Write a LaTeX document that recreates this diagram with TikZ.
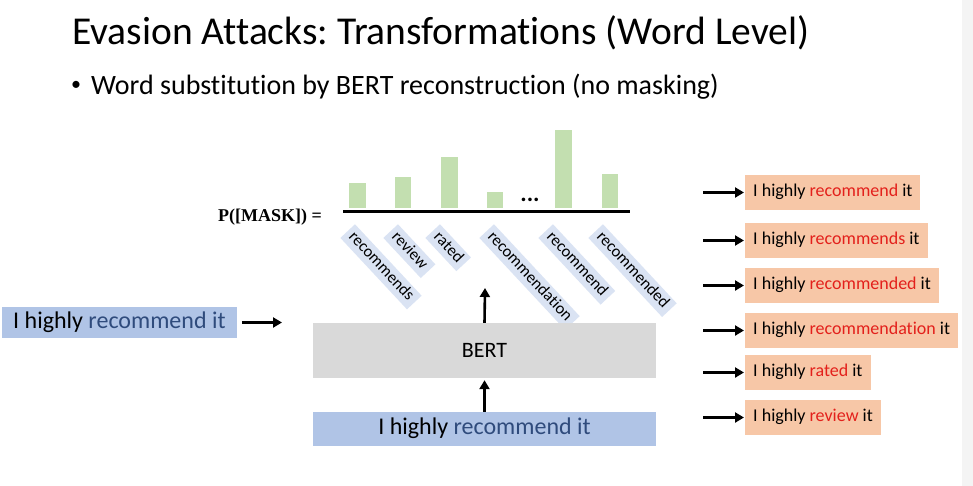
\documentclass[tikz,border=0pt]{standalone}
\usepackage{fontspec}
\setmainfont{Carlito}[Ligatures={NoCommon}]
\newfontfamily\serifbold{Liberation Serif}
\usetikzlibrary{arrows.meta}
\definecolor{bargreen}{HTML}{C3DFB0}
\definecolor{lblblue}{HTML}{DAE3F3}
\definecolor{bertgray}{HTML}{D9D9D9}
\definecolor{inblue}{HTML}{B0C4E6}
\definecolor{txtblue}{HTML}{2F4B7C}
\definecolor{salmon}{HTML}{F7C7A7}
\definecolor{redw}{HTML}{E3201B}
\definecolor{stripgray}{HTML}{F4F4F4}
\newcommand{\fsz}[1]{\fontsize{#1}{#1}\selectfont}
\frenchspacing
\begin{document}
\begin{tikzpicture}[x=1pt,y=-1pt,
  fatarrow/.style={line width=2.6pt,-{Triangle[length=9pt,width=10pt]}},
  barbox/.style={fill=bargreen,draw=none},
  lbl/.style={fill=lblblue,rotate=-47,anchor=north west,font=\fsz{16.5},
    inner xsep=5pt,inner ysep=2pt,text height=12pt,text depth=4pt},
  outbox/.style={fill=salmon,anchor=west,minimum height=35pt,inner xsep=8pt,
    text height=12.5pt,text depth=4pt,font=\fsz{18}},
  inbox/.style={fill=inblue,font=\fsz{24},text height=16pt,text depth=5pt}]
\useasboundingbox (0,0) rectangle (973,486);
\fill[white] (0,0) rectangle (973,486);
\fill[stripgray] (962,0) rectangle (973,486);

% title and bullet
\node[anchor=base west,font=\fsz{39.5},inner sep=0pt] (title) at (72,45)
  {Evasion Attacks: Transformations (Word Level)};
\node[font=\fsz{20},inner sep=0pt] (bulletdot) at (76,86) {\textbullet};
\node[anchor=base west,font=\fsz{28},inner sep=0pt] (bullet) at (91,95)
  {Word substitution by BERT reconstruction (no masking)};

% bar chart
\fill[barbox] (349,183) rectangle (366,208);
\fill[barbox] (395,177) rectangle (411,208);
\fill[barbox] (441,157) rectangle (458,208);
\fill[barbox] (487,192) rectangle (503,208);
\fill[barbox] (555,130) rectangle (572,208);
\fill[barbox] (602,174) rectangle (618,208);
\node[anchor=base,font=\bfseries\fsz{24},inner sep=0pt] (dots) at (530,202) {...};
\draw[line width=3pt] (343,211.5) -- (630,211.5);
\node[anchor=base east,font=\serifbold\bfseries\fsz{18},inner sep=0pt] (pmask) at (322,222)
  {P([MASK]) =};

% rotated candidate labels
\node[lbl] (l1) at (355,224) {recommends};
\node[lbl] (l2) at (398,224) {review};
\node[lbl] (l3) at (440,224) {rated};
\node[lbl] (l4) at (494,224) {recommendation};
\node[lbl] (l5) at (553,224) {recommend};
\node[lbl] (l6) at (603,224) {recommended};

% BERT and input
\node[fill=bertgray,minimum width=343pt,minimum height=55pt,font=\fsz{22}] (bert) at (484.5,350.5) {BERT};
\node[inbox,minimum width=343pt,minimum height=34pt] (inp) at (484.5,429)
  {I highly \textcolor{txtblue}{recommend it}};
\coordinate (bertout) at (485,288);
\draw[fatarrow] (inp.north) -- ([yshift=-2pt]bert.south);
\draw[fatarrow] (bert.north) -- (bertout);

% left input
\node[inbox,anchor=west,minimum height=31pt,inner xsep=11pt] (lin) at (2,322.5)
  {I highly \textcolor{txtblue}{recommend it}};
\coordinate (lintip) at (282,322.5);
\draw[fatarrow] ([xshift=5pt]lin.east) -- (lintip);

% outputs
\node[outbox] (o1) at (745,192.5) {I highly \textcolor{redw}{recommend} it};
\node[outbox] (o2) at (745,240.5) {I highly \textcolor{redw}{recommends} it};
\node[outbox] (o3) at (745,285.5) {I highly \textcolor{redw}{recommended} it};
\node[outbox] (o4) at (745,330.5) {I highly \textcolor{redw}{recommendation} it};
\node[outbox] (o5) at (745,372.5) {I highly \textcolor{redw}{rated} it};
\node[outbox] (o6) at (745,417.5) {I highly \textcolor{redw}{review} it};
\foreach \i/\y in {1/192.5,2/240.5,3/285.5,4/330.5,5/372.5,6/417.5}{
  \coordinate (a\i) at (703,\y);
  \draw[fatarrow] (a\i) -- ([xshift=-1pt]o\i.west);
}
\end{tikzpicture}
\end{document}
